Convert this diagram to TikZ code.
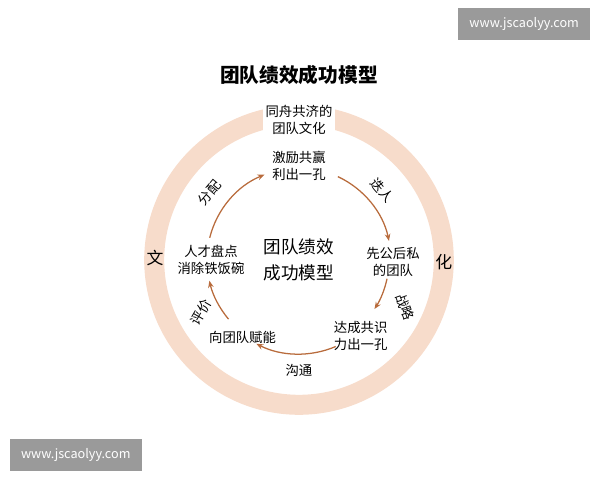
\documentclass[tikz,border=0pt]{standalone}
\usepackage{fontspec}
\setmainfont{Noto Sans CJK SC}
\usepackage{xcolor}
\definecolor{ringpeach}{HTML}{F7DCCB}
\definecolor{arrowbrown}{HTML}{B86B3C}
\definecolor{markgray}{HTML}{9A9A9A}
\usetikzlibrary{arrows.meta}

\begin{document}
\begin{tikzpicture}[
  stage/.style={font=\fontsize{9.5}{12}\selectfont, align=center},
  flowlabel/.style={font=\fontsize{9.5}{12}\selectfont, inner sep=1pt},
  flowarc/.style={arrowbrown, line width=0.9pt, -{Stealth[length=5pt,width=4pt]}},
  watermark/.style={fill=markgray, text=white, font=\fontsize{9}{11}\selectfont,
    minimum width=3.3cm, minimum height=0.8cm}
]
\useasboundingbox (-7.475,-5.5) rectangle (7.525,6.5);
 \coordinate (o) at (0,0);

% outer ring
\draw[ringpeach, line width=0.5cm] (o) circle (3.62);

\node [font=\fontsize{14}{16}\selectfont\bfseries] (title) at (0,4.62) {团队绩效成功模型};
\node [stage, fill=white, inner sep=2pt] (culture) at (0,3.5) {同舟共济的\\团队文化};
\node [font=\fontsize{12}{14}\selectfont] (wen) at (-3.6,0.05) {文};
\node [font=\fontsize{12}{14}\selectfont] (hua) at (3.62,-0.05) {化};

\node [font=\fontsize{12.5}{18}\selectfont, align=center] (core) at (0,0) {团队绩效\\成功模型};

\node [stage] (s1) at (90:2.35) {激励共赢\\利出一孔};
\node [stage] (s2) at (-1:2.35) {先公后私\\的团队};
\node [stage] (s3) at (-51:2.45) {达成共识\\力出一孔};
\node [stage] (s4) at (-126:2.4) {向团队赋能};
\node [stage] (s5) at (180:2.2) {人才盘点\\消除铁饭碗};

\draw[flowarc] (65:2.3) arc (65:12:2.3);
\draw[flowarc] (-12:2.25) arc (-12:-33:2.25);
\draw[flowarc] (-67:2.35) arc (-67:-117:2.35);
\draw[flowarc] (-140:2.3) arc (-140:-167:2.3);
\draw[flowarc] (166:2.3) arc (166:112:2.3);

\node [flowlabel, rotate=-50] (l1) at (40:2.72) {迭人};
\node [flowlabel, rotate=-70] (l2) at (-24:2.9) {战略};
\node [flowlabel] (l3) at (-90:2.75) {沟通};
\node [flowlabel, rotate=60] (l4) at (-152:2.78) {评价};
\node [flowlabel, rotate=50] (l5) at (143:2.8) {分配};

\node [watermark] (wm1) at (5.63,5.9) {www.jscaolyy.com};
\node [watermark] (wm2) at (-5.58,-4.87) {www.jscaolyy.com};
\end{tikzpicture}
\end{document}
